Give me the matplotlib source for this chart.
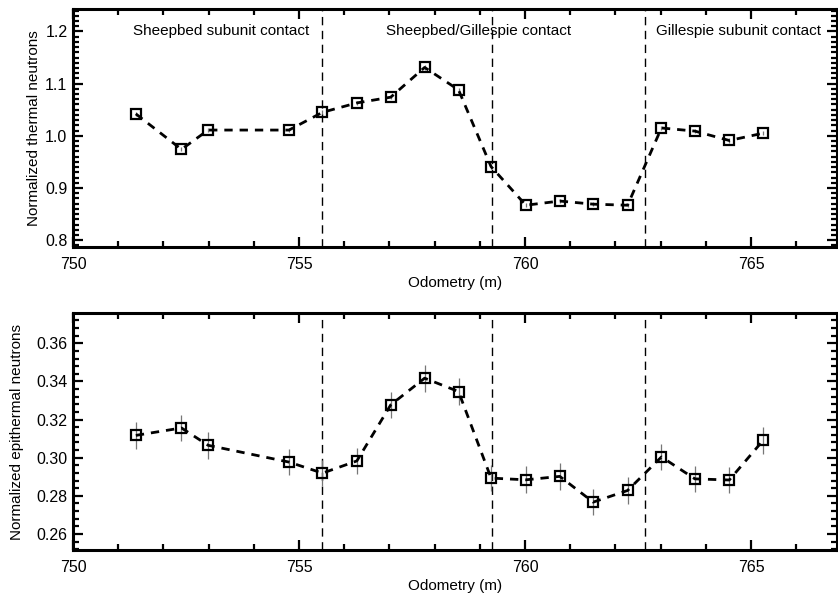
import numpy as np
import matplotlib
matplotlib.use('Agg')
import matplotlib.pyplot as plt
from matplotlib.ticker import MultipleLocator

plt.rcParams['font.family'] = ['Liberation Sans', 'DejaVu Sans']

# odometry of each measurement (m)
odometry = [751.39, 752.40, 752.99, 754.78, 755.52, 756.28, 757.03, 757.78, 758.53,
            759.25, 760.02, 760.77, 761.51, 762.27, 763.02, 763.76, 764.52, 765.27]

thermal = [1.042, 0.974, 1.011, 1.011, 1.045, 1.063, 1.074, 1.131, 1.088,
           0.941, 0.867, 0.875, 0.869, 0.867, 1.015, 1.009, 0.991, 1.005]
thermal_err = [0.004] * 18

epithermal = [0.3117, 0.3156, 0.3065, 0.2977, 0.2919, 0.2983, 0.3277, 0.3417, 0.3347,
              0.2893, 0.2884, 0.2902, 0.2767, 0.2828, 0.3004, 0.2889, 0.2883, 0.3091]
epithermal_err = [0.007] * 18

contacts = [755.5, 759.27, 762.65]
contact_labels = ['Sheepbed subunit contact', 'Sheepbed/Gillespie contact',
                  'Gillespie subunit contact']
label_x = [753.27, 758.97, 764.72]

fig = plt.figure(figsize=(8.38, 5.98), dpi=100)
ax1 = fig.add_axes([0.0871, 0.587, 0.9115, 0.398])
ax2 = fig.add_axes([0.0871, 0.0803, 0.9115, 0.396])


def style_axis(ax, ylim, ymajor, yminor, ylabel, ylabelpad):
    ax.set_xlim(750, 766.9)
    ax.set_ylim(*ylim)
    ax.xaxis.set_major_locator(MultipleLocator(5))
    ax.xaxis.set_minor_locator(MultipleLocator(1))
    ax.yaxis.set_major_locator(MultipleLocator(ymajor))
    ax.yaxis.set_minor_locator(MultipleLocator(yminor))
    ax.tick_params(which='both', direction='in', top=True, right=True,
                   width=1.6, labelsize=11.5)
    ax.tick_params(axis='x', pad=7)
    ax.tick_params(axis='y', pad=4)
    ax.tick_params(which='major', length=7)
    ax.tick_params(which='minor', length=4)
    for s in ax.spines.values():
        s.set_linewidth(2.2)
    for c in contacts:
        ax.axvline(c, color='black', lw=1.0, ls=(0, (6, 4)))
    ax.set_xlabel('Odometry (m)', fontsize=11, labelpad=3)
    ax.set_ylabel(ylabel, fontsize=11, labelpad=ylabelpad)


style_axis(ax1, (0.787, 1.243), 0.1, 0.01, 'Normalized thermal neutrons', 3)
ax1.yaxis.set_major_formatter(plt.FormatStrFormatter('%.1f'))
style_axis(ax2, (0.2516, 0.3758), 0.02, 0.004, 'Normalized epithermal neutrons', 9)
ax2.yaxis.set_major_formatter(plt.FormatStrFormatter('%.2f'))

for ax, vals, errs in [(ax1, thermal, thermal_err), (ax2, epithermal, epithermal_err)]:
    ax.errorbar(odometry, vals, yerr=errs, fmt='none', ecolor='#777777',
                elinewidth=0.9, capsize=0, zorder=2)
    ax.plot(odometry, vals, color='black', lw=2.0, ls=(0, (3, 2.5)),
            marker='s', markersize=6.5, markerfacecolor='none',
            markeredgecolor='black', markeredgewidth=1.6, zorder=3)

for x, t in zip(label_x, contact_labels):
    ax1.text(x, 1.2, t, ha='center', va='center', fontsize=11)

fig.savefig('out.png', dpi=100)
